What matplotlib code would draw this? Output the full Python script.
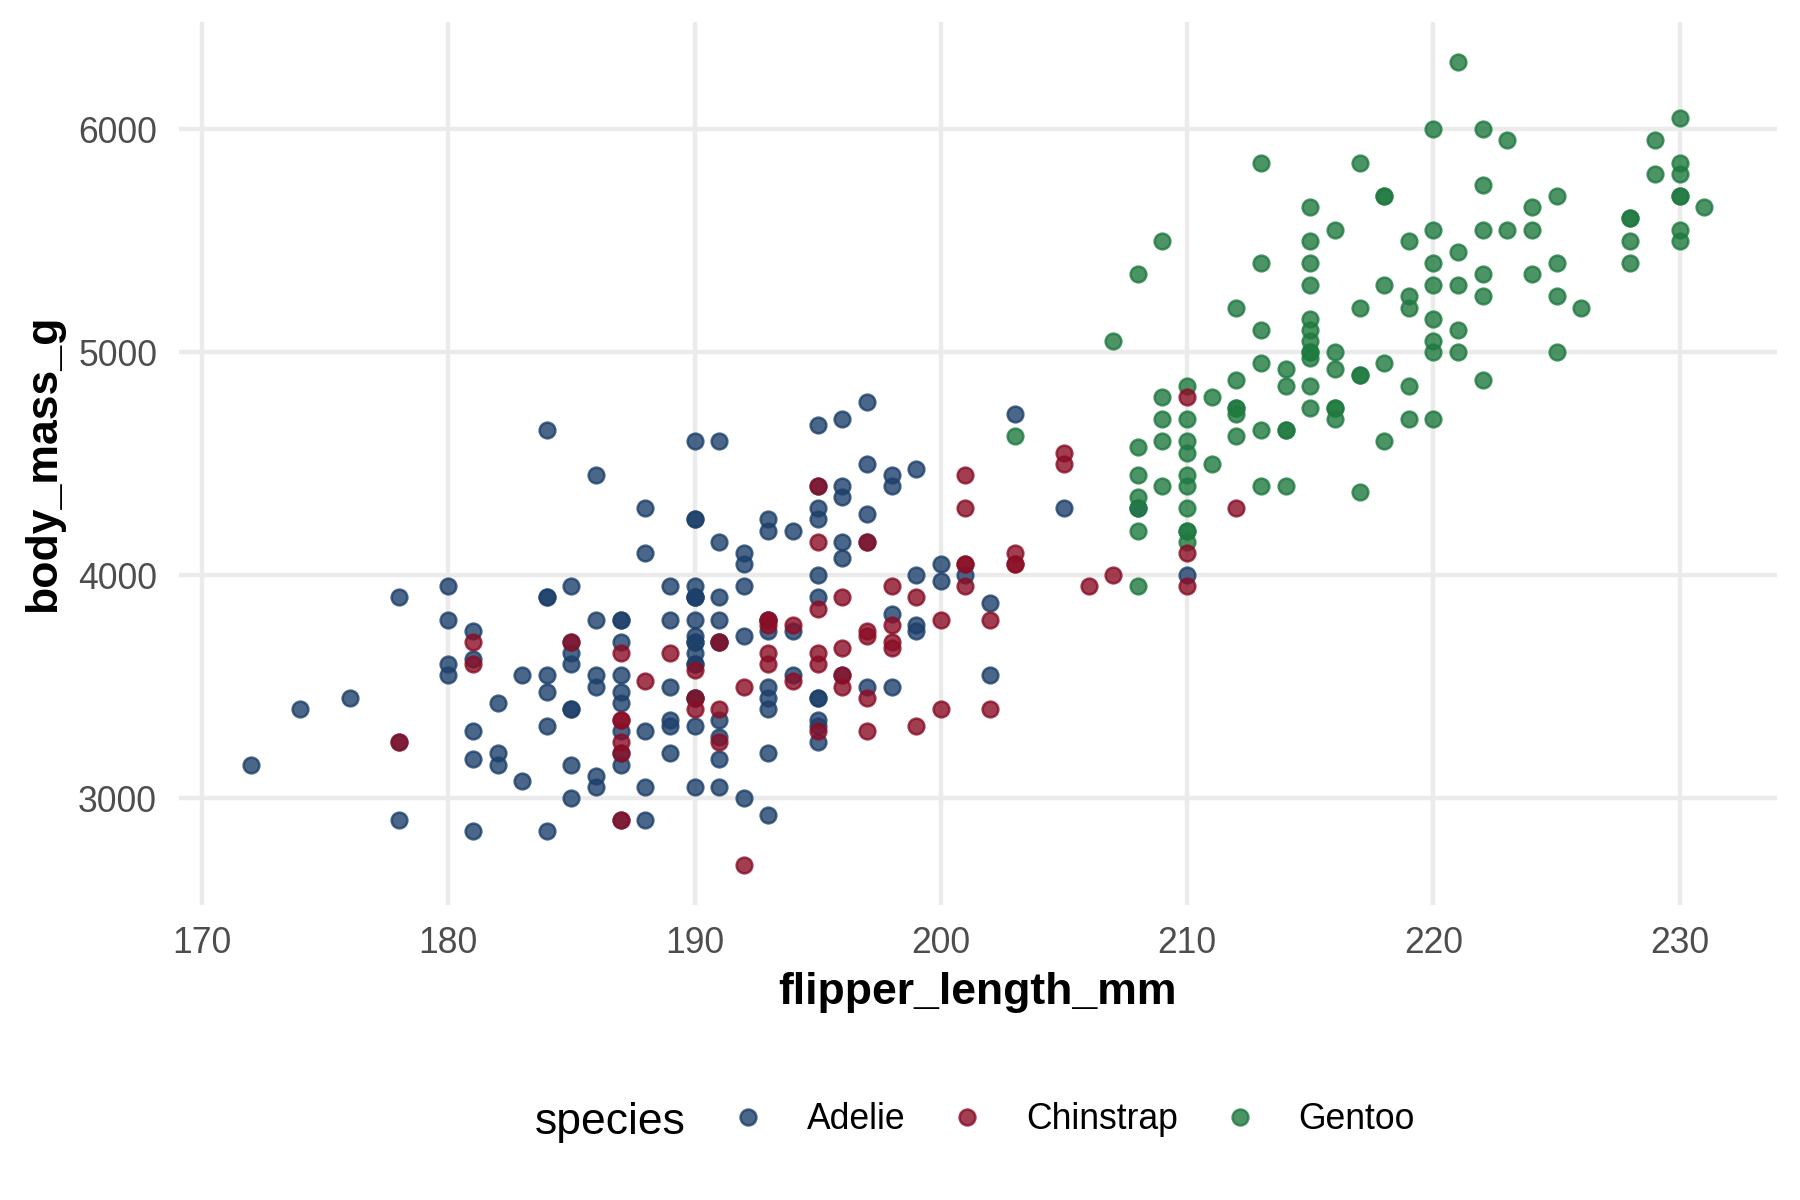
import matplotlib.pyplot as plt
from matplotlib.lines import Line2D

plt.rcParams['font.family'] = ['Liberation Sans', 'DejaVu Sans']

# penguins (rows with missing values dropped)
adelie_flipper = [
    181, 186, 195, 193, 190, 181, 195, 182, 191, 198, 185, 195, 197, 184, 194,
    174, 180, 189, 185, 180, 187, 183, 187, 172, 180, 178, 178, 188, 184, 195,
    196, 190, 180, 181, 184, 182, 195, 186, 196, 185, 190, 182, 190, 191, 186,
    188, 190, 200, 187, 191, 186, 193, 181, 194, 185, 195, 185, 192, 184, 192,
    195, 188, 190, 198, 190, 190, 196, 197, 190, 195, 191, 184, 187, 195, 189,
    196, 187, 193, 191, 194, 190, 189, 189, 190, 202, 205, 185, 186, 187, 208,
    190, 196, 178, 192, 192, 203, 183, 190, 193, 184, 199, 190, 181, 197, 198,
    191, 193, 197, 191, 196, 188, 199, 189, 189, 187, 198, 176, 202, 186, 199,
    191, 195, 191, 210, 190, 197, 193, 199, 187, 190, 191, 200, 185, 193, 193,
    187, 188, 190, 192, 185, 190, 184, 195, 193, 187, 201,
]
adelie_mass = [
    3750, 3800, 3250, 3450, 3650, 3625, 4675, 3200, 3800, 4400, 3700, 3450, 4500, 3325, 4200,
    3400, 3600, 3800, 3950, 3800, 3800, 3550, 3200, 3150, 3950, 3250, 3900, 3300, 3900, 3325,
    4150, 3950, 3550, 3300, 4650, 3150, 3900, 3100, 4400, 3000, 4600, 3425, 3450, 4150, 3500,
    4300, 3450, 4050, 2900, 3700, 3550, 3800, 2850, 3750, 3150, 4400, 3600, 4050, 2850, 3950,
    3350, 4100, 3050, 4450, 3600, 3900, 3550, 4150, 3700, 4250, 3700, 3900, 3550, 4000, 3200,
    4700, 3800, 4200, 3350, 3550, 3800, 3500, 3950, 3600, 3550, 4300, 3400, 4450, 3300, 4300,
    3700, 4350, 2900, 4100, 3725, 4725, 3075, 4250, 2925, 3550, 3750, 3900, 3175, 4775, 3825,
    4600, 3200, 4275, 3900, 4075, 2900, 3775, 3350, 3325, 3150, 3500, 3450, 3875, 3050, 4000,
    3275, 4300, 3050, 4000, 3325, 3500, 3500, 4475, 3425, 3900, 3175, 3975, 3400, 4250, 3400,
    3475, 3050, 3725, 3000, 3650, 4250, 3475, 3450, 3750, 3700, 4000,
]

gentoo_flipper = [
    211, 230, 210, 218, 215, 210, 211, 219, 209, 215, 214, 216, 214, 213, 210,
    217, 210, 221, 209, 222, 218, 215, 213, 215, 215, 215, 215, 210, 220, 222,
    209, 207, 230, 220, 220, 213, 219, 208, 208, 208, 225, 210, 216, 222, 217,
    210, 225, 213, 215, 210, 220, 210, 225, 217, 220, 208, 220, 208, 224, 208,
    221, 214, 231, 219, 230, 229, 220, 223, 216, 221, 221, 217, 216, 230, 209,
    220, 215, 223, 212, 221, 212, 224, 212, 228, 218, 218, 212, 230, 218, 228,
    212, 224, 214, 226, 216, 222, 203, 225, 219, 228, 215, 228, 215, 210, 219,
    208, 209, 216, 229, 213, 230, 217, 230, 222, 214, 215, 222, 212, 213,
]
gentoo_mass = [
    4500, 5700, 4450, 5700, 5400, 4550, 4800, 5200, 4400, 5150, 4650, 5550, 4650, 5850, 4200,
    5850, 4150, 6300, 4800, 5350, 5700, 5000, 4400, 5050, 5000, 5100, 5650, 4600, 5550, 5250,
    4700, 5050, 6050, 5150, 5400, 4950, 5250, 4350, 5350, 3950, 5700, 4300, 4750, 5550, 4900,
    4200, 5400, 5100, 5300, 4850, 5300, 4400, 5000, 4900, 5050, 4300, 5000, 4450, 5550, 4200,
    5300, 4400, 5650, 4700, 5700, 5800, 4700, 5550, 4750, 5000, 5100, 5200, 4700, 5800, 4600,
    6000, 4750, 5950, 4625, 5450, 4725, 5350, 4750, 5600, 4600, 5300, 4875, 5550, 4950, 5400,
    4750, 5650, 4850, 5200, 4925, 4875, 4625, 5250, 4850, 5600, 4975, 5500, 5500, 4700, 5500,
    4575, 5500, 5000, 5950, 4650, 5500, 4375, 5850, 6000, 4925, 4850, 5750, 5200, 5400,
]

chinstrap_flipper = [
    192, 196, 193, 188, 197, 198, 178, 197, 195, 198, 193, 194, 185, 201, 190,
    201, 197, 181, 190, 195, 181, 191, 187, 193, 195, 197, 200, 200, 191, 205,
    187, 201, 187, 203, 195, 199, 195, 210, 192, 205, 210, 187, 196, 196, 196,
    201, 190, 212, 187, 198, 199, 201, 193, 203, 187, 197, 191, 203, 202, 194,
    206, 189, 195, 207, 202, 193, 210, 198,
]
chinstrap_mass = [
    3500, 3900, 3650, 3525, 3725, 3950, 3250, 3750, 4150, 3700, 3800, 3775, 3700, 4050, 3575,
    4050, 3300, 3700, 3450, 4400, 3600, 3400, 2900, 3800, 3300, 4150, 3400, 3800, 3700, 4550,
    3200, 4300, 3350, 4100, 3600, 3900, 3850, 4800, 2700, 4500, 3950, 3650, 3550, 3500, 3675,
    4450, 3400, 4300, 3250, 3675, 3325, 3950, 3600, 4050, 3350, 3450, 3250, 4050, 3800, 3525,
    3950, 3650, 3650, 4000, 3400, 3775, 4100, 3775,
]

species = ["Adelie", "Chinstrap", "Gentoo"]
colors = {"Adelie": "#1d406b", "Chinstrap": "#8a0e26", "Gentoo": "#1f7a40"}
x_breaks = [170, 180, 190, 200, 210, 220, 230]
y_breaks = [3000, 4000, 5000, 6000]

fig = plt.figure(figsize=(9, 6), dpi=200)
ax = fig.add_axes([0.0992, 0.2458, 0.888, 0.7356])

# draw in data order: Adelie, Gentoo, Chinstrap
for name, fx, my in [("Adelie", adelie_flipper, adelie_mass),
                     ("Gentoo", gentoo_flipper, gentoo_mass),
                     ("Chinstrap", chinstrap_flipper, chinstrap_mass)]:
    ax.scatter(fx, my, s=32, color=colors[name], edgecolors=colors[name],
               linewidths=0.9, alpha=0.8, zorder=3)

all_x = adelie_flipper + gentoo_flipper + chinstrap_flipper
all_y = adelie_mass + gentoo_mass + chinstrap_mass
xr = max(all_x) - min(all_x)
yr = max(all_y) - min(all_y)
ax.set_xlim(min(all_x) - 0.05 * xr, max(all_x) + 0.05 * xr)
ax.set_ylim(min(all_y) - 0.05 * yr, max(all_y) + 0.05 * yr)

ax.set_xticks(x_breaks)
ax.set_yticks(y_breaks)
ax.grid(True, color="#ebebeb", linewidth=1.6, zorder=0)
ax.set_axisbelow(True)
for sp in ax.spines.values():
    sp.set_visible(False)
ax.tick_params(length=0, pad=7.7, labelsize=12.8, labelcolor="#4d4d4d")

ax.set_xlabel("flipper_length_mm", fontsize=16, fontweight="bold", va="center")
ax.set_ylabel("body_mass_g", fontsize=16, fontweight="bold", va="center")
ax.xaxis.set_label_coords(0.5, -0.0986)
ax.yaxis.set_label_coords(-0.0847, 0.5)

handles = [Line2D([], [], linestyle="none", marker="o", markersize=5.7,
                  markerfacecolor=colors[s], markeredgecolor=colors[s],
                  markeredgewidth=0.9, alpha=0.8) for s in species]
fig.legend(handles, species, loc="center left", bbox_to_anchor=(0.4057, 0.067),
           ncol=3, frameon=False, fontsize=12.8, handlelength=1.0,
           handletextpad=1.15, columnspacing=1.24, borderpad=0, borderaxespad=0)
fig.text(0.2972, 0.055, "species", fontsize=16, va="baseline", ha="left")

fig.savefig("out.png", dpi=200, facecolor="white")
